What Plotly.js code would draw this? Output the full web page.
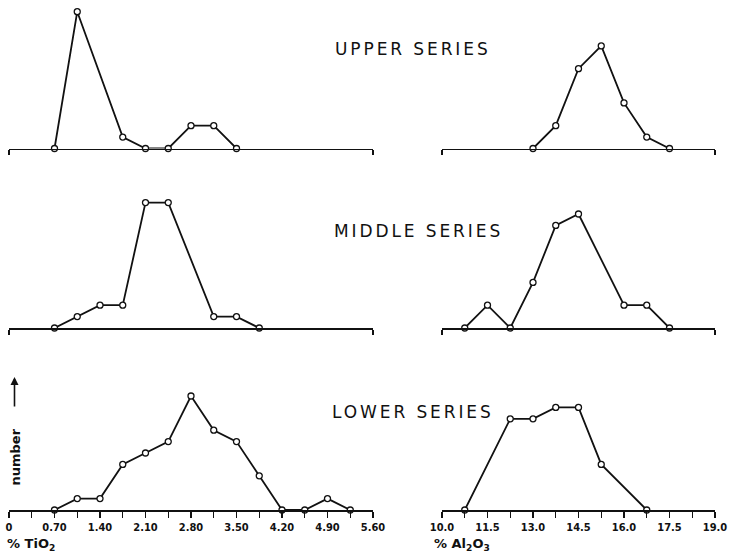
<!DOCTYPE html>
<html>
<head>
<meta charset="utf-8">
<script src="https://cdn.plot.ly/plotly-3.0.1.min.js"></script>
<style>html,body{margin:0;padding:0;background:#fff;}#chart{width:729px;height:555px;}</style>
</head>
<body>
<div id="chart"></div>
<script>
// ---- data (class midpoints and counts) ----
const upperTiX = [0.70, 1.05, 1.75, 2.10, 2.45, 2.80, 3.15, 3.50];
const upperTiN = [0, 12, 1, 0, 0, 2, 2, 0];
const middleTiX = [0.70, 1.05, 1.40, 1.75, 2.10, 2.45, 3.15, 3.50, 3.85];
const middleTiN = [0, 1, 2, 2, 11, 11, 1, 1, 0];
const lowerTiX = [0.70, 1.05, 1.40, 1.75, 2.10, 2.45, 2.80, 3.15, 3.50, 3.85, 4.20, 4.55, 4.90, 5.25];
const lowerTiN = [0, 1, 1, 4, 5, 6, 10, 7, 6, 3, 0, 0, 1, 0];

const upperAlX = [13.0, 13.75, 14.5, 15.25, 16.0, 16.75, 17.5];
const upperAlN = [0, 2, 7, 9, 4, 1, 0];
const middleAlX = [10.75, 11.5, 12.25, 13.0, 13.75, 14.5, 16.0, 16.75, 17.5];
const middleAlN = [0, 2, 0, 4, 9, 10, 2, 2, 0];
const lowerAlX = [10.75, 12.25, 13.0, 13.75, 14.5, 15.25, 16.75];
const lowerAlN = [0, 8, 8, 9, 9, 4, 0];

const tiTickVals = [0, 0.70, 1.40, 2.10, 2.80, 3.50, 4.20, 4.90, 5.60];
const tiTickText = ["0", "0.70", "1.40", "2.10", "2.80", "3.50", "4.20", "4.90", "5.60"];
const tiMinorVals = [0.35, 1.05, 1.75, 2.45, 3.15, 3.85, 4.55, 5.25];
const alTickVals = [10.0, 11.5, 13.0, 14.5, 16.0, 17.5, 19.0];
const alTickText = ["10.0", "11.5", "13.0", "14.5", "16.0", "17.5", "19.0"];
const alMinorVals = [10.75, 12.25, 13.75, 15.25, 16.75, 18.25];

const seriesNames = ["UPPER SERIES", "MIDDLE SERIES", "LOWER SERIES"];
const tiRange = [0, 5.6];
const alRange = [10, 19];

// ---- layout geometry (pixels) ----
const W = 729, H = 555;
const unitPx = 11.4;
const spanPx = 140;
const baselines = [148.5, 328, 510];
const leftPx = [9, 373];
const rightPx = [442, 715];
const titleLeft = [333, 332, 330];
const titleY = [49.5, 231, 412];

const lineStyle = {color: '#111', width: 1.8};
const markerStyle = {symbol: 'circle', size: 6, color: '#fff', line: {color: '#111', width: 1.3}};

const sets = [
  [upperTiX, upperTiN, 'ti'], [upperAlX, upperAlN, 'al'],
  [middleTiX, middleTiN, 'ti'], [middleAlX, middleAlN, 'al'],
  [lowerTiX, lowerTiN, 'ti'], [lowerAlX, lowerAlN, 'al']
];

const traces = [];
const layout = {
  width: W, height: H,
  margin: {l: 0, r: 0, t: 0, b: 0},
  paper_bgcolor: '#fff', plot_bgcolor: 'rgba(0,0,0,0)',
  showlegend: false,
  annotations: []
};

const tickFont = {family: "'DejaVu Sans Condensed', sans-serif", size: 11, color: '#111', weight: 'bold'};

sets.forEach((s, i) => {
  const n = i + 1;
  const row = Math.floor(i / 2);
  const isTi = s[2] === 'ti';
  const sfx = n === 1 ? '' : String(n);
  traces.push({
    x: s[0], y: s[1], type: 'scatter', mode: 'lines+markers',
    xaxis: 'x' + sfx, yaxis: 'y' + sfx,
    line: lineStyle, marker: markerStyle, cliponaxis: false, hoverinfo: 'x+y'
  });
  const base = baselines[row];
  layout['yaxis' + sfx] = {
    domain: [1 - base / H, 1 - (base - spanPx) / H],
    range: [0, spanPx / unitPx],
    visible: false, fixedrange: true
  };
  const px = isTi ? leftPx : rightPx;
  const rng = isTi ? tiRange : alRange;
  const xaxis = {
    domain: [px[0] / W, px[1] / W],
    range: rng,
    anchor: 'y' + sfx,
    showgrid: false, zeroline: false,
    showline: true, linecolor: '#111', linewidth: 1.6,
    ticks: 'outside', tickcolor: '#111', tickwidth: 1.4,
    fixedrange: true, tickmode: 'array'
  };
  if (row < 2) {
    xaxis.tickvals = rng;
    xaxis.ticklen = 5;
    xaxis.showticklabels = false;
  } else {
    xaxis.tickvals = isTi ? tiTickVals : alTickVals;
    xaxis.ticktext = isTi ? tiTickText : alTickText;
    xaxis.ticklen = 6;
    xaxis.tickfont = tickFont;
    xaxis.showticklabels = true;
    xaxis.ticklabeloverflow = 'allow';
    xaxis.minor = {
      tickmode: 'array', tickvals: isTi ? tiMinorVals : alMinorVals,
      ticks: 'outside', ticklen: 6, tickwidth: 1.4, tickcolor: '#111', showgrid: false
    };
  }
  layout['xaxis' + sfx] = xaxis;
});

// series titles
seriesNames.forEach((t, r) => {
  layout.annotations.push({
    text: t, xref: 'paper', yref: 'paper',
    x: titleLeft[r] / W, y: 1 - titleY[r] / H,
    xanchor: 'left', yanchor: 'middle', align: 'left',
    showarrow: false,
    font: {family: "'DejaVu Sans', sans-serif", size: 17, color: '#111'}
  });
});

// axis titles
const axisTitleFont = {family: "'DejaVu Sans', sans-serif", size: 13, color: '#111', weight: 'bold'};
layout.annotations.push({
  text: '% TiO<sub>2</sub>', xref: 'paper', yref: 'paper',
  x: 5 / W, y: 1 - 544 / H, xanchor: 'left', yanchor: 'middle',
  showarrow: false, font: axisTitleFont
});
layout.annotations.push({
  text: '% Al<sub>2</sub>O<sub>3</sub>', xref: 'paper', yref: 'paper',
  x: 432 / W, y: 1 - 544 / H, xanchor: 'left', yanchor: 'middle',
  showarrow: false, font: axisTitleFont
});
// y label "number" with arrow
layout.annotations.push({
  text: 'number', xref: 'paper', yref: 'paper',
  x: 14.5 / W, y: 1 - 457 / H, xanchor: 'center', yanchor: 'middle',
  textangle: -90, showarrow: false, font: {family: "'DejaVu Sans', sans-serif", size: 13, color: '#111', weight: 'bold'}
});
layout.annotations.push({
  text: '', xref: 'paper', yref: 'paper',
  x: 14.5 / W, y: 1 - 377 / H, ax: 0, ay: 31,
  showarrow: true, arrowhead: 2, arrowsize: 1, arrowwidth: 1.6, arrowcolor: '#111', standoff: 0
});

Plotly.newPlot('chart', traces, layout, {staticPlot: true, displayModeBar: false}).then(() => {
  const anns = document.querySelectorAll('#chart .annotation');
  for (let k = 0; k < 3 && k < anns.length; k++) {
    const txt = anns[k].querySelector('text.annotation-text');
    if (txt) txt.style.letterSpacing = '2.9px';
  }
});
</script>
</body>
</html>
